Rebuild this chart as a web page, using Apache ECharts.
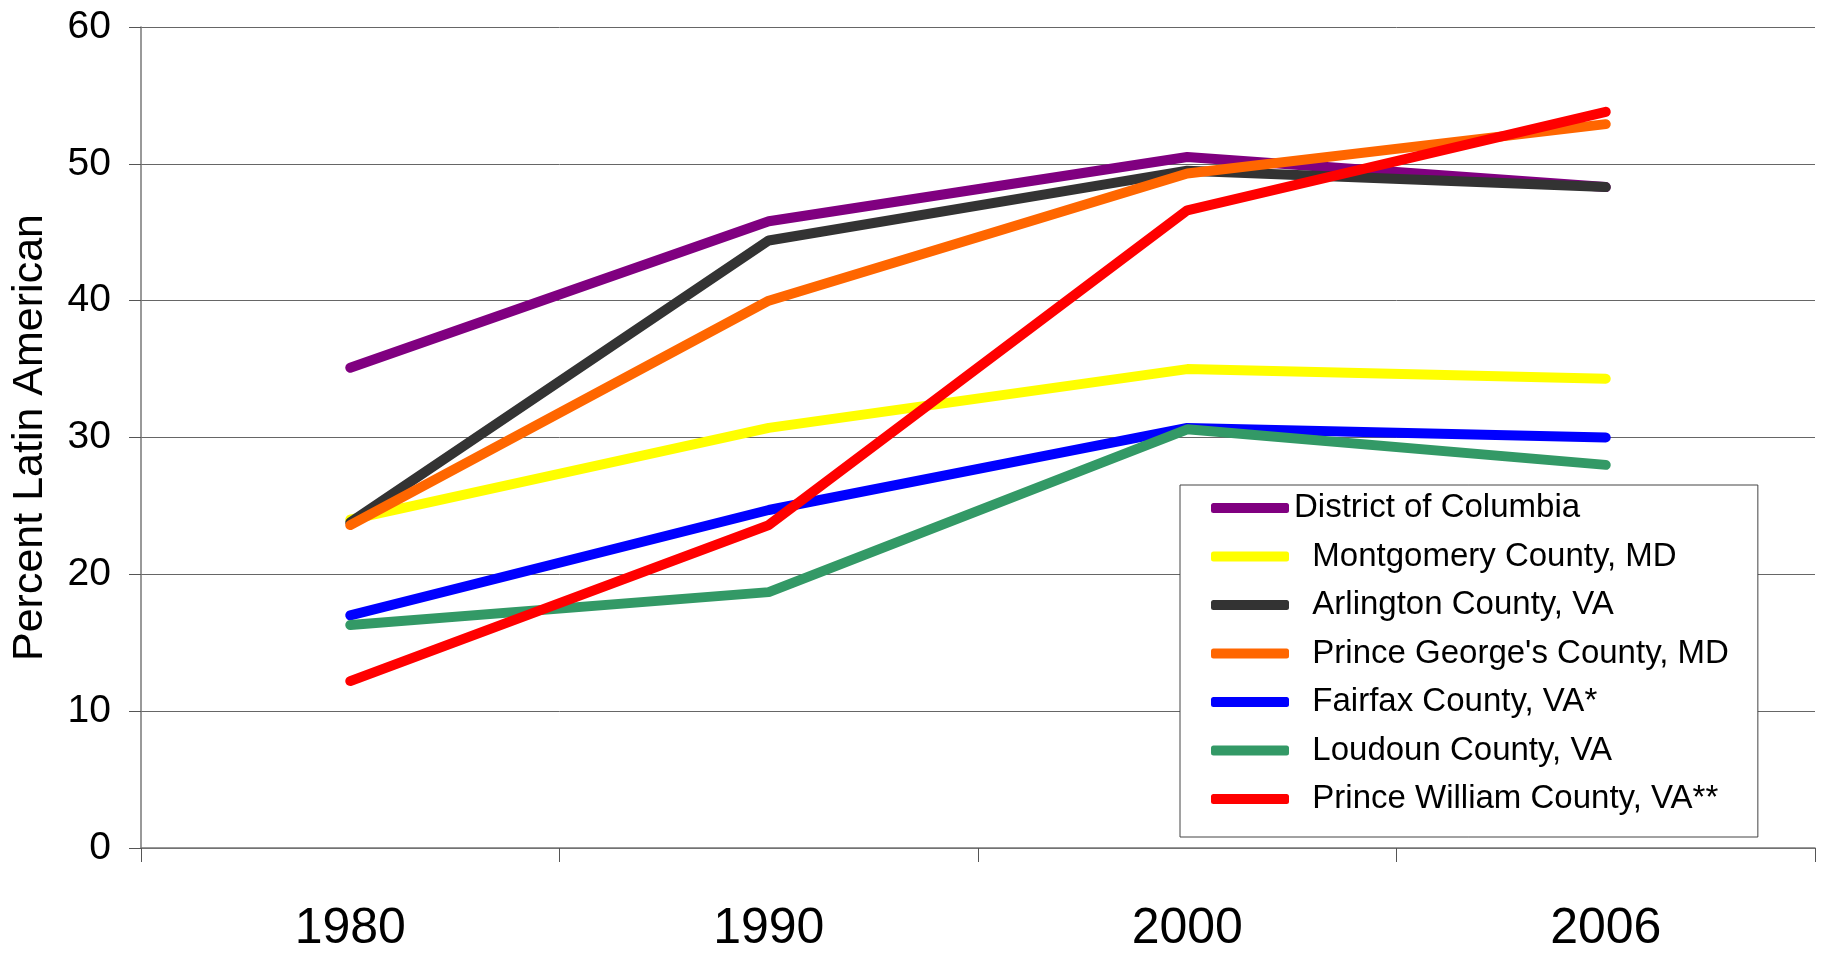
<!DOCTYPE html>
<html>
<head>
<meta charset="utf-8">
<script src="https://cdn.jsdelivr.net/npm/echarts@6/dist/echarts.min.js"></script>
<style>
html,body{margin:0;padding:0;background:#fff;}
#chart{width:1827px;height:954px;}
</style>
</head>
<body>
<div id="chart"></div>
<script>
const years = ['1980', '1990', '2000', '2006'];
const seriesNames = [
  'District of Columbia',
  'Montgomery County, MD',
  'Arlington County, VA',
  "Prince George's County, MD",
  'Fairfax County, VA*',
  'Loudoun County, VA',
  'Prince William County, VA**'
];
const seriesColors = ['#800080', '#FFFF00', '#333333', '#FF6600', '#0000FF', '#339966', '#FF0000'];
const districtOfColumbia = [35.1, 45.8, 50.5, 48.3];
const montgomery = [24.0, 30.7, 35.0, 34.3];
const arlington = [23.8, 44.4, 49.5, 48.3];
const princeGeorges = [23.6, 40.0, 49.3, 52.9];
const fairfax = [17.0, 24.7, 30.7, 30.0];
const loudoun = [16.3, 18.7, 30.6, 28.0];
const princeWilliam = [12.2, 23.6, 46.6, 53.8];
const yTicks = [0, 10, 20, 30, 40, 50, 60];

const allData = [districtOfColumbia, montgomery, arlington, princeGeorges, fairfax, loudoun, princeWilliam];
const FONT = '"Liberation Sans", Arial, sans-serif';

const chart = echarts.init(document.getElementById('chart'));
chart.setOption({
  animation: false,
  backgroundColor: '#ffffff',
  grid: { left: 141, right: 12, top: 27, bottom: 100, containLabel: false },
  legend: {
    orient: 'vertical',
    left: 1180,
    top: 485,
    padding: [3, 29, 18, 31],
    itemGap: 8.5,
    itemWidth: 78,
    itemHeight: 10,
    icon: 'roundRect',
    backgroundColor: '#ffffff',
    borderColor: '#444444',
    borderWidth: 1,
    borderRadius: 0,
    data: seriesNames,
    formatter: function (name) { return name === seriesNames[0] ? name : '  ' + name; },
    textStyle: { fontFamily: FONT, fontSize: 33, color: '#000', lineHeight: 40 }
  },
  xAxis: {
    type: 'category',
    data: years,
    boundaryGap: true,
    axisLine: { lineStyle: { color: '#777', width: 1.5 } },
    axisTick: { show: true, length: 14, lineStyle: { color: '#555', width: 1 } },
    axisLabel: { fontFamily: FONT, fontSize: 50, color: '#000', margin: 56 }
  },
  yAxis: {
    type: 'value',
    min: yTicks[0],
    max: yTicks[yTicks.length - 1],
    interval: 10,
    name: 'Percent Latin American',
    nameLocation: 'middle',
    nameGap: 89,
    nameTextStyle: { fontFamily: FONT, fontSize: 43, color: '#000' },
    axisLine: { show: true, lineStyle: { color: '#777', width: 1.5 } },
    axisTick: { show: true, length: 12, lineStyle: { color: '#555', width: 1 } },
    axisLabel: { fontFamily: FONT, fontSize: 39, color: '#000', margin: 30 },
    splitLine: { show: true, lineStyle: { color: '#666', width: 1 } }
  },
  series: seriesNames.map(function (name, i) {
    return {
      name: name,
      type: 'line',
      data: allData[i],
      symbol: 'none',
      color: seriesColors[i],
      lineStyle: { width: 10, color: seriesColors[i], cap: 'round', join: 'bevel' },
      itemStyle: { color: seriesColors[i] },
      z: 2 + i
    };
  })
});
</script>
</body>
</html>
